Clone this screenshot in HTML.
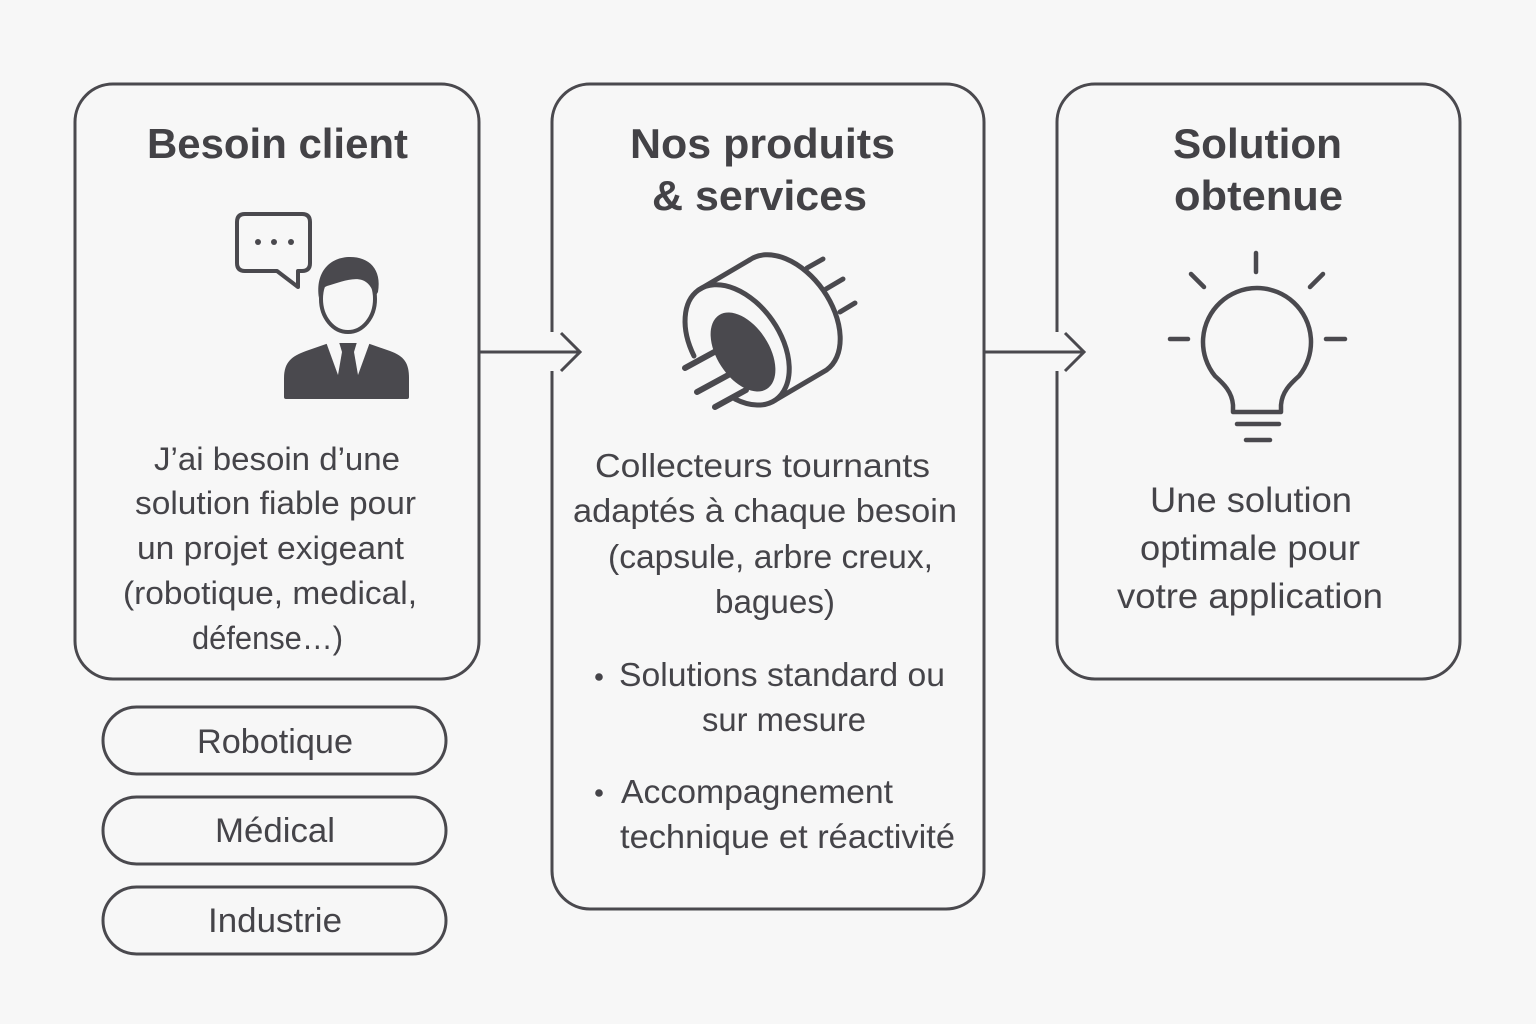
<!DOCTYPE html>
<html>
<head>
<meta charset="utf-8">
<style>
  html,body{margin:0;padding:0;background:#f7f7f7;}
  svg{display:block;}
  text{font-family:"Liberation Sans", Arial, sans-serif; fill:#454449;}
  .t{font-weight:bold;font-size:42px;fill:#434246;}
  .b1{font-size:32px;}
  .b2{font-size:33px;}
  .b3{font-size:35px;}
  .p{font-size:34px;}
</style>
</head>
<body>
<svg width="1536" height="1024" viewBox="0 0 1536 1024" xmlns="http://www.w3.org/2000/svg">
  <rect width="1536" height="1024" fill="#f7f7f7"/>

  <g fill="none" stroke="#4a494e" stroke-width="3">
    <rect x="75" y="84" width="404" height="595" rx="38"/>
    <path d="M552,332 L552,122 A38,38 0 0 1 590,84 L946,84 A38,38 0 0 1 984,122 L984,871 A38,38 0 0 1 946,909 L590,909 A38,38 0 0 1 552,871 L552,371"/>
    <path d="M1057,332 L1057,122 A38,38 0 0 1 1095,84 L1422,84 A38,38 0 0 1 1460,122 L1460,641 A38,38 0 0 1 1422,679 L1095,679 A38,38 0 0 1 1057,641 L1057,371"/>
    <line x1="479" y1="352" x2="580" y2="352"/>
    <polyline points="561,333 580,352 561,371"/>
    <line x1="984" y1="352" x2="1084" y2="352"/>
    <polyline points="1065,333 1084,352 1065,371"/>
    <rect x="103" y="707" width="343" height="67" rx="33.5"/>
    <rect x="103" y="797" width="343" height="67" rx="33.5"/>
    <rect x="103" y="887" width="343" height="67" rx="33.5"/>
  </g>

  <text class="t" x="147" y="158" textLength="261" lengthAdjust="spacingAndGlyphs">Besoin client</text>
  <text class="t" x="630" y="158" textLength="265" lengthAdjust="spacingAndGlyphs">Nos produits</text>
  <text class="t" x="652" y="210" textLength="215" lengthAdjust="spacingAndGlyphs">&amp; services</text>
  <text class="t" x="1173" y="158" textLength="169" lengthAdjust="spacingAndGlyphs">Solution</text>
  <text class="t" x="1174" y="210" textLength="169" lengthAdjust="spacingAndGlyphs">obtenue</text>

  <text class="b1" x="154" y="470" textLength="246" lengthAdjust="spacingAndGlyphs">J’ai besoin d’une</text>
  <text class="b1" x="135" y="514" textLength="281" lengthAdjust="spacingAndGlyphs">solution fiable pour</text>
  <text class="b1" x="137" y="559" textLength="267" lengthAdjust="spacingAndGlyphs">un projet exigeant</text>
  <text class="b1" x="123" y="604" textLength="294" lengthAdjust="spacingAndGlyphs">(robotique, medical,</text>
  <text class="b1" x="192" y="649" textLength="151" lengthAdjust="spacingAndGlyphs">défense…)</text>

  <text class="b2" x="595" y="477" textLength="335" lengthAdjust="spacingAndGlyphs">Collecteurs tournants</text>
  <text class="b2" x="573" y="522" textLength="384" lengthAdjust="spacingAndGlyphs">adaptés à chaque besoin</text>
  <text class="b2" x="608" y="568" textLength="325" lengthAdjust="spacingAndGlyphs">(capsule, arbre creux,</text>
  <text class="b2" x="715" y="613" textLength="120" lengthAdjust="spacingAndGlyphs">bagues)</text>
  <circle cx="599" cy="677" r="3.8" fill="#454449"/>
  <circle cx="599" cy="793" r="3.8" fill="#454449"/>
  <text class="b2" x="619" y="686" textLength="326" lengthAdjust="spacingAndGlyphs">Solutions standard ou</text>
  <text class="b2" x="702" y="731" textLength="164" lengthAdjust="spacingAndGlyphs">sur mesure</text>
  <text class="b2" x="621" y="803" textLength="272" lengthAdjust="spacingAndGlyphs">Accompagnement</text>
  <text class="b2" x="620" y="848" textLength="335" lengthAdjust="spacingAndGlyphs">technique et réactivité</text>

  <text class="b3" x="1150" y="512" textLength="202" lengthAdjust="spacingAndGlyphs">Une solution</text>
  <text class="b3" x="1140" y="560" textLength="220" lengthAdjust="spacingAndGlyphs">optimale pour</text>
  <text class="b3" x="1117" y="608" textLength="266" lengthAdjust="spacingAndGlyphs">votre application</text>

  <text class="p" x="197" y="753" textLength="156" lengthAdjust="spacingAndGlyphs">Robotique</text>
  <text class="p" x="215" y="842" textLength="120" lengthAdjust="spacingAndGlyphs">Médical</text>
  <text class="p" x="208" y="932" textLength="134" lengthAdjust="spacingAndGlyphs">Industrie</text>

  <!-- Person icon -->
  <g>
    <path d="M245,214 H302 Q310,214 310,222 V263 Q310,271 302,271 H298 V287 L277,271 H245 Q237,271 237,263 V222 Q237,214 245,214 Z" fill="none" stroke="#4a494e" stroke-width="4" stroke-linejoin="round"/>
    <circle cx="258" cy="242" r="3" fill="#4a494e"/>
    <circle cx="274" cy="242" r="3" fill="#4a494e"/>
    <circle cx="291" cy="242" r="3" fill="#4a494e"/>
    <ellipse cx="348" cy="299" rx="27" ry="33" fill="#f7f7f7" stroke="#4a494e" stroke-width="4"/>
    <path d="M319,298 C315,272 330,257 350,257 C369,257 382,269 378,292 L375,297 C372,287 368,282 362,280 C352,277 338,283 327,286 C322,288 320,292 319,298 Z" fill="#4a494e"/>
    <path d="M284,397 V378 C284,362 292,356 306,351 L329,343 L367,343 L390,351 C404,356 409,363 409,378 V397 Q409,399 407,399 H286 Q284,399 284,397 Z" fill="#4a494e"/>
    <polygon points="326,342 339,342 342,352 338,375" fill="#f7f7f7"/>
    <polygon points="370,342 357,342 354,352 358,375" fill="#f7f7f7"/>
  </g>

  <!-- Slip ring icon -->
  <g stroke="#4a494e" stroke-width="5" fill="none" stroke-linecap="round" stroke-linejoin="round">
    <path d="M749.5,260 L698.5,290 A67,43 55 0 0 694,356"/>
    <path d="M735,399 A67,43 55 0 0 775.5,400 L826.5,370 A67,43 55 0 0 749.5,260"/>
    <path d="M698.5,290 A67,43 55 0 1 775.5,400"/>
    <line x1="807" y1="268" x2="823" y2="259"/>
    <line x1="826" y1="289" x2="843" y2="279"/>
    <line x1="840" y1="312" x2="855" y2="303"/>
    <line x1="685" y1="368" x2="718" y2="350" stroke-width="6"/>
    <line x1="697" y1="392" x2="732" y2="373" stroke-width="6"/>
    <line x1="715" y1="407" x2="746" y2="390" stroke-width="6"/>
  </g>
  <ellipse cx="743" cy="352" rx="44" ry="26" transform="rotate(57 743 352)" fill="#4a494e"/>

  <!-- Bulb icon -->
  <g stroke="#4a494e" stroke-width="4.5" fill="none" stroke-linecap="round" stroke-linejoin="round">
    <line x1="1256" y1="253" x2="1256" y2="272"/>
    <line x1="1191" y1="274" x2="1204" y2="287"/>
    <line x1="1323" y1="274" x2="1310" y2="287"/>
    <line x1="1170" y1="339" x2="1188" y2="339"/>
    <line x1="1326" y1="339" x2="1345" y2="339"/>
    <path d="M1233,412 L1233,405 C1232,392 1224,384 1215,376 A54,54 0 1 1 1299,376 C1290,384 1282,392 1281,405 L1281,412 Z"/>
    <line x1="1237" y1="424" x2="1279" y2="424"/>
    <line x1="1246" y1="440" x2="1270" y2="440"/>
  </g>
</svg>
</body>
</html>
